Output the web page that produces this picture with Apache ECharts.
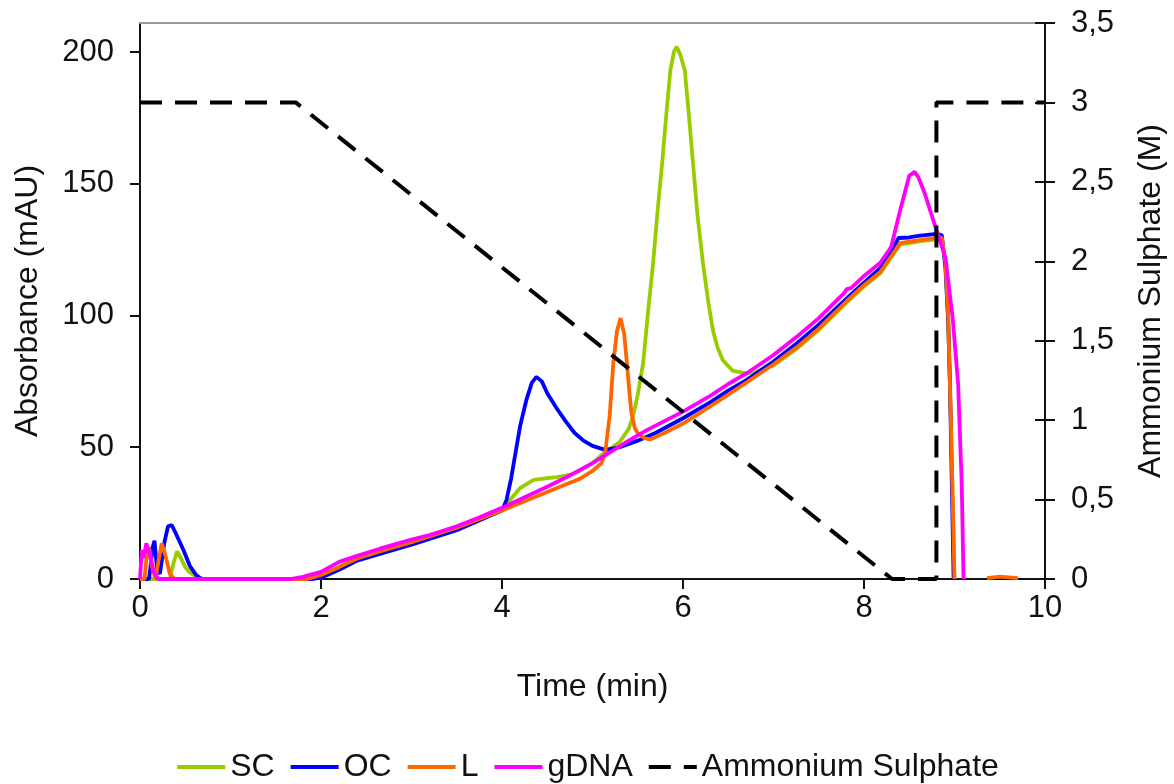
<!DOCTYPE html>
<html>
<head>
<meta charset="utf-8">
<script src="https://cdn.jsdelivr.net/npm/echarts@6/dist/echarts.min.js"></script>
<style>html,body{margin:0;padding:0;background:#fff}#c{width:1174px;height:784px}</style>
</head>
<body>
<div id="c"></div>
<script>
// ---- data ----
const seriesNames = ['SC', 'OC', 'L', 'gDNA', 'Ammonium Sulphate'];
const xTicks = [0, 2, 4, 6, 8, 10];
const leftTicks = [0, 50, 100, 150, 200];
const rightTicks = [0, 0.5, 1, 1.5, 2, 2.5, 3, 3.5];
const rightTickLabels = ['0', '0,5', '1', '1,5', '2', '2,5', '3', '3,5'];

const scData = [[0,0],[0.33,0],[0.37,6],[0.41,10.5],[0.45,8],[0.5,4.5],[0.55,2.5],[0.62,1],[0.7,0],[1.85,0],[2.0,1.5],[2.2,4.5],[2.4,7.8],[2.65,10.5],[3.0,14],[3.5,19.5],[4.0,26],[4.09,30],[4.2,34.5],[4.35,37.6],[4.5,38.3],[4.6,38.7],[4.75,39.5],[4.86,41],[5.0,44],[5.1,47],[5.2,49.5],[5.3,52],[5.4,57],[5.45,62],[5.5,70],[5.56,82],[5.61,100],[5.67,120],[5.72,140],[5.77,158],[5.82,178],[5.86,193],[5.9,200],[5.93,202],[5.97,199],[6.02,193],[6.06,178],[6.11,158],[6.16,138],[6.22,120],[6.28,105],[6.33,94.5],[6.38,88],[6.44,83],[6.55,79],[6.7,78],[6.8,78.5],[7.0,81],[7.26,87.5],[7.5,94.5],[7.81,105],[8.0,111],[8.18,116],[8.3,122],[8.4,127],[8.5,127.5],[8.6,128],[8.7,128.5],[8.8,129],[8.86,129],[8.9,119.5],[8.93,99],[8.96,59],[9.0,0]];

const ocData = [[0,0],[0.1,0],[0.14,12],[0.16,14.5],[0.19,3],[0.22,2],[0.27,14],[0.31,20],[0.35,20.5],[0.4,17],[0.48,11],[0.55,5],[0.62,1.5],[0.68,0],[1.9,0],[2.0,0.5],[2.2,3.5],[2.4,7],[2.65,9.5],[3.0,13],[3.5,18.5],[4.0,26],[4.05,30],[4.1,38],[4.15,48],[4.2,58],[4.27,68],[4.33,74.5],[4.38,76.7],[4.44,75],[4.5,70.5],[4.6,65],[4.7,60],[4.8,55.5],[4.9,52.5],[5.0,50.5],[5.14,49],[5.3,50],[5.5,52.5],[5.7,55.5],[6.0,61],[6.3,67],[6.5,71.5],[6.7,75.5],[7.0,82.5],[7.26,89.5],[7.5,96.5],[7.81,106.5],[8.0,112.5],[8.18,118],[8.3,124],[8.38,129.4],[8.5,129.6],[8.6,130.2],[8.7,130.6],[8.8,131],[8.86,130.5],[8.9,118],[8.93,98],[8.95,74],[8.99,0]];

const lData = [[0,0],[0.05,0],[0.08,11],[0.1,12],[0.13,5],[0.17,0],[0.2,6],[0.24,13.5],[0.28,9],[0.33,2],[0.38,0],[1.85,0],[2.0,1.5],[2.2,4.5],[2.4,7.8],[2.65,10.5],[3.0,14],[3.5,19.5],[4.0,26],[4.25,29.5],[4.5,33],[4.75,36.5],[4.86,38],[5.0,41],[5.1,44],[5.14,47.8],[5.19,62],[5.23,82],[5.27,94],[5.31,99],[5.35,93],[5.38,82],[5.41,70],[5.43,63],[5.47,57],[5.5,55.4],[5.57,53.5],[5.64,53],[5.8,55.5],[6.0,59],[6.3,65.5],[6.5,70],[6.7,74.5],[7.0,81.5],[7.26,88],[7.5,95],[7.81,105.5],[8.0,111.5],[8.18,116.5],[8.3,122.5],[8.4,127.5],[8.5,128],[8.6,128.5],[8.7,129],[8.8,129.5],[8.86,129.5],[8.9,120],[8.93,100],[8.96,60],[9.0,0],[9.05,null],[9.36,0.3],[9.5,0.9],[9.7,0.3]];

const gdnaData = [[0,0],[0.02,11],[0.04,8],[0.07,13.5],[0.11,9],[0.15,3],[0.2,0],[1.66,0],[1.8,0.8],[2.0,2.7],[2.2,6.5],[2.4,8.8],[2.65,11.5],[3.0,15],[3.2,16.7],[3.5,20],[3.76,23.5],[4.0,27],[4.25,31],[4.5,35],[4.75,39.3],[5.0,44],[5.2,48.2],[5.4,52.5],[5.6,56.5],[5.8,60],[6.0,63.5],[6.3,69.5],[6.5,74],[6.7,78],[7.0,85],[7.26,92],[7.5,99],[7.78,108.5],[7.81,110],[7.86,110.5],[8.0,115],[8.18,120],[8.3,126],[8.4,140],[8.5,153],[8.56,154.5],[8.6,152.5],[8.67,146.5],[8.73,140],[8.8,132.5],[8.9,122],[8.98,99],[9.04,74],[9.08,36],[9.1,0]];

const ammoniumData = [[0,3],[1.72,3],[8.31,0],[8.8,0],[8.8,3],[10,3]];

const colors = ['#99cc00', '#0000ff', '#ff6600', '#ff00ff', '#000000'];

// ---- chart ----
const FONT = "'Liberation Sans', Arial, sans-serif";
const chart = echarts.init(document.getElementById('c'), null, {renderer: 'canvas'});
const axisLine = {show: true, onZero: false, lineStyle: {color: '#111', width: 2}};
const option = {
  animation: false,
  backgroundColor: '#fff',
  textStyle: {fontFamily: FONT},
  grid: {left: 140, right: 129, top: 23, bottom: 205, containLabel: false, outerBoundsMode: 'none'},
  legend: {
    data: seriesNames,
    left: 'center',
    top: 746,
    itemWidth: 48,
    itemHeight: 20,
    itemGap: 14,
    itemStyle: {opacity: 0},
    lineStyle: {width: 4},
    textStyle: {fontSize: 32, color: '#111', fontFamily: FONT}
  },
  xAxis: [{
    type: 'value', min: 0, max: 10, interval: 2,
    name: 'Time (min)', nameLocation: 'middle', nameGap: 92,
    nameTextStyle: {fontSize: 32, color: '#111', fontFamily: FONT},
    axisLine: axisLine,
    axisTick: {show: true, length: 10, lineStyle: {color: '#111', width: 2}, customValues: xTicks},
    axisLabel: {fontSize: 31, color: '#111', margin: 14, fontFamily: FONT, customValues: xTicks},
    splitLine: {show: false}
  }, {
    type: 'value', min: 0, max: 10, position: 'top',
    axisLine: {show: true, onZero: false, lineStyle: {color: '#999', width: 2}},
    axisTick: {show: false}, axisLabel: {show: false}, splitLine: {show: false}
  }],
  yAxis: [{
    type: 'value', min: 0, max: 211, position: 'left',
    name: 'Absorbance (mAU)', nameLocation: 'middle', nameGap: 96, nameRotate: 90,
    nameTextStyle: {fontSize: 32, color: '#111', fontFamily: FONT},
    axisLine: axisLine,
    axisTick: {show: true, length: 10, lineStyle: {color: '#111', width: 2}, customValues: leftTicks},
    axisLabel: {fontSize: 31, color: '#111', margin: 26, fontFamily: FONT, customValues: leftTicks},
    splitLine: {show: false}
  }, {
    type: 'value', min: 0, max: 3.5, interval: 0.5, position: 'right',
    name: 'Ammonium Sulphate (M)', nameLocation: 'middle', nameGap: 90, nameRotate: 90,
    nameTextStyle: {fontSize: 32, color: '#111', fontFamily: FONT},
    axisLine: axisLine,
    axisTick: {show: true, length: 10, lineStyle: {color: '#111', width: 2}},
    axisLabel: {fontSize: 31, color: '#111', margin: 26, fontFamily: FONT,
      formatter: function (v) { const i = rightTicks.indexOf(v); return i >= 0 ? rightTickLabels[i] : ''; }},
    splitLine: {show: false}
  }, {
    type: 'value', min: 0, max: 3.5, interval: 0.5, position: 'right',
    axisLine: {show: false, onZero: false},
    axisTick: {show: true, inside: true, length: 10, lineStyle: {color: '#111', width: 2}},
    axisLabel: {show: false}, splitLine: {show: false}
  }],
  series: [
    {name: seriesNames[0], data: scData},
    {name: seriesNames[1], data: ocData},
    {name: seriesNames[2], data: lData},
    {name: seriesNames[3], data: gdnaData}
  ].map(function (s, i) {
    return Object.assign(s, {
      type: 'line', xAxisIndex: 0, yAxisIndex: 0, showSymbol: false, symbol: 'none',
      connectNulls: false, color: colors[i],
      lineStyle: {color: colors[i], width: 3.8}, z: 2 + i
    });
  }).concat([{
    name: seriesNames[4], type: 'line', xAxisIndex: 0, yAxisIndex: 1,
    data: ammoniumData, showSymbol: false, symbol: 'none', color: colors[4],
    lineStyle: {color: colors[4], width: 4, type: [22, 13]}, z: 10
  }])
};
chart.setOption(option);
</script>
</body>
</html>
